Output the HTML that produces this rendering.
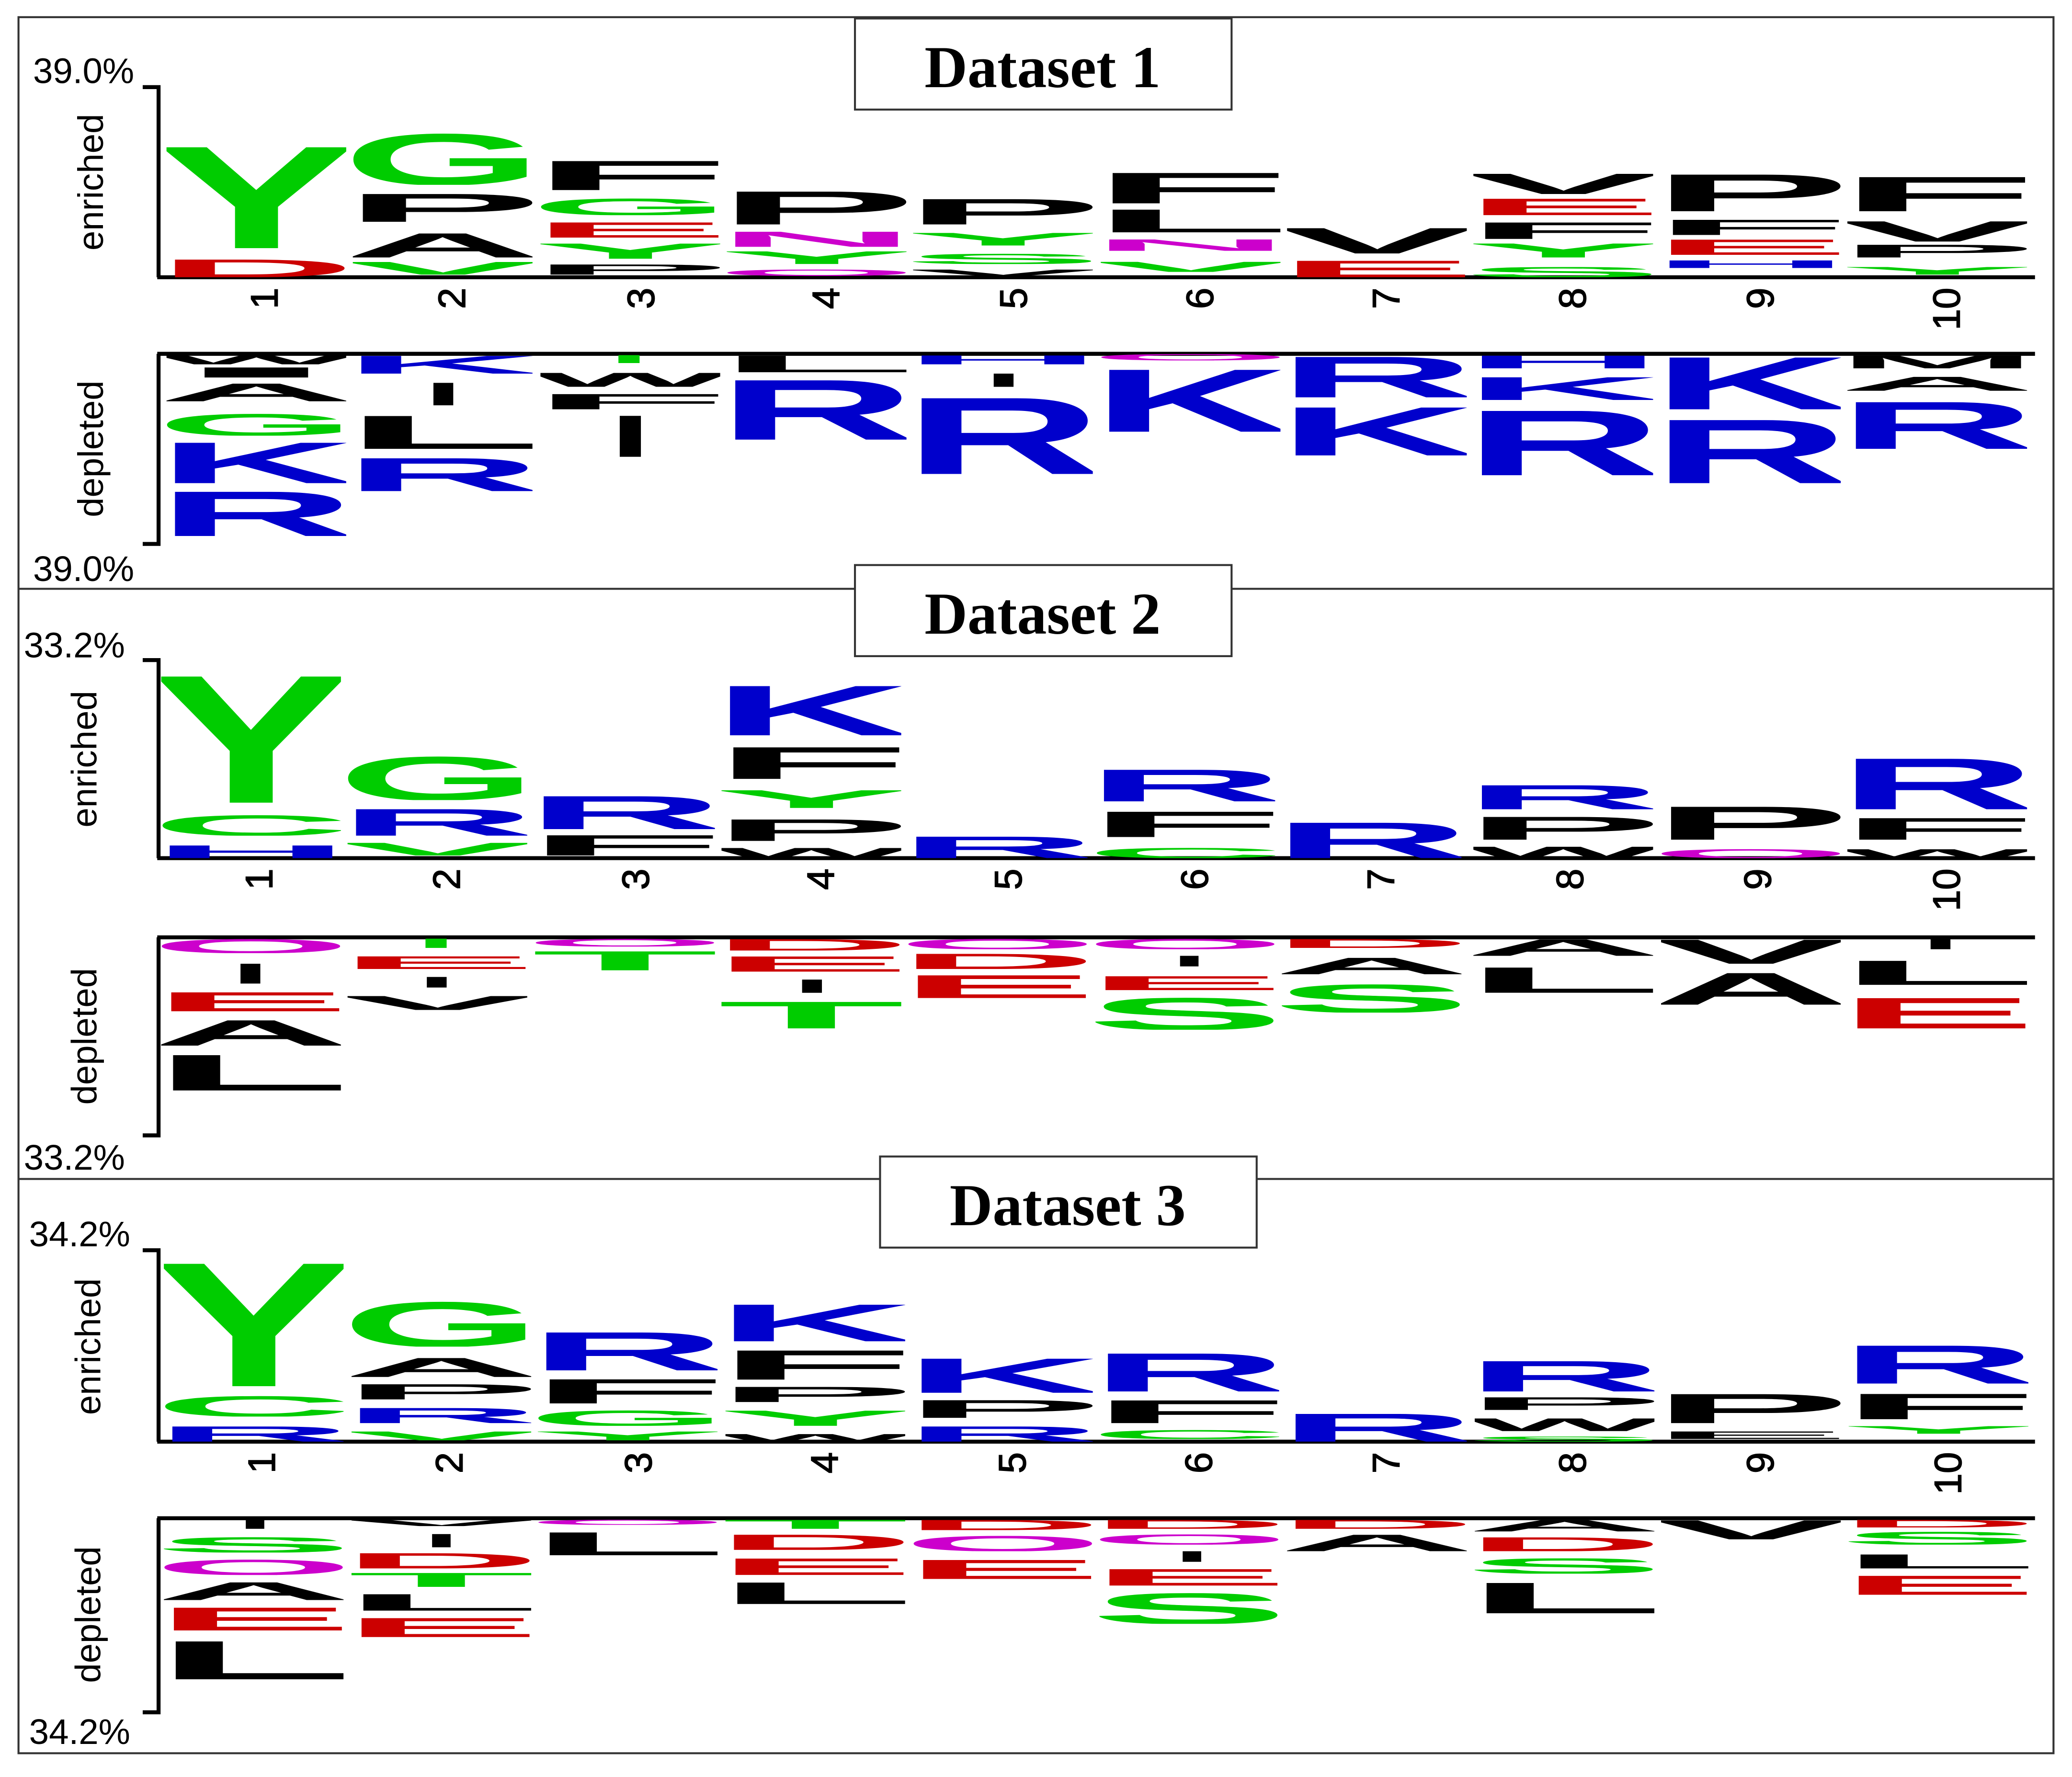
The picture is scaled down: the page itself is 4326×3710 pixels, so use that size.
<!DOCTYPE html>
<html><head><meta charset="utf-8"><style>
body{margin:0;background:#fff}
svg{display:block}
.L text{font-family:"Liberation Sans",sans-serif;font-weight:bold;font-size:100px}
.g{fill:#00cc00}.b{fill:#0000cc}.r{fill:#cc0000}.k{fill:#000}.m{fill:#cc00cc}
.ax{font-family:"Liberation Sans",sans-serif;font-size:27px;fill:#000}
.nm{font-family:"Liberation Sans",sans-serif;font-size:29px;fill:#000;stroke:#000;stroke-width:0.6}
.tt{font-family:"Liberation Serif",serif;font-weight:bold;font-size:45px;fill:#000}
</style></head><body>
<svg width="4326" height="3710" viewBox="0 0 1568 1346" preserveAspectRatio="none" xmlns="http://www.w3.org/2000/svg">
<rect x="0" y="0" width="1568" height="1346" fill="#fff"/>
<rect x="14" y="13" width="1540" height="1315" fill="none" stroke="#333" stroke-width="1.5"/>
<line x1="14" y1="446" x2="1554" y2="446" stroke="#333" stroke-width="1.5"/>
<line x1="14" y1="893" x2="1554" y2="893" stroke="#333" stroke-width="1.5"/>
<rect x="647" y="14" width="285" height="69" fill="#fff" stroke="#333" stroke-width="1.5"/>
<text class="tt" x="789" y="66" text-anchor="middle">Dataset 1</text>
<rect x="647" y="428" width="285" height="69" fill="#fff" stroke="#333" stroke-width="1.5"/>
<text class="tt" x="789" y="480" text-anchor="middle">Dataset 2</text>
<rect x="666" y="876" width="285" height="69" fill="#fff" stroke="#333" stroke-width="1.5"/>
<text class="tt" x="808" y="928" text-anchor="middle">Dataset 3</text>

<g fill="none" stroke="#000" stroke-width="3">
<path d="M108 66H120V210"/><path d="M108 412H120V268"/>
<line x1="119" y1="210" x2="1540" y2="210"/><line x1="119" y1="268" x2="1540" y2="268"/>
<path d="M108 500H120V650"/><path d="M108 860H120V710"/>
<line x1="119" y1="650" x2="1540" y2="650"/><line x1="119" y1="710" x2="1540" y2="710"/>
<path d="M108 947H120V1092"/><path d="M108 1297H120V1150"/>
<line x1="119" y1="1092" x2="1540" y2="1092"/><line x1="119" y1="1150" x2="1540" y2="1150"/>
</g>
<text class="ax" x="25" y="63">39.0%</text><text class="ax" x="25" y="440">39.0%</text>
<text class="ax" x="18" y="498">33.2%</text><text class="ax" x="18" y="886">33.2%</text>
<text class="ax" x="22" y="944">34.2%</text><text class="ax" x="22" y="1321">34.2%</text>
<text class="ax" transform="translate(78,138) rotate(-90)" text-anchor="middle">enriched</text>
<text class="ax" transform="translate(78,340) rotate(-90)" text-anchor="middle">depleted</text>
<text class="ax" transform="translate(73,575) rotate(-90)" text-anchor="middle">enriched</text>
<text class="ax" transform="translate(73,785) rotate(-90)" text-anchor="middle">depleted</text>
<text class="ax" transform="translate(76,1020) rotate(-90)" text-anchor="middle">enriched</text>
<text class="ax" transform="translate(76,1223) rotate(-90)" text-anchor="middle">depleted</text>

<g class="nm" text-anchor="middle">
<text transform="translate(210,226) rotate(-90)">1</text><text transform="translate(352,226) rotate(-90)">2</text><text transform="translate(495,226) rotate(-90)">3</text><text transform="translate(635,226) rotate(-90)">4</text><text transform="translate(777,226) rotate(-90)">5</text><text transform="translate(918,226) rotate(-90)">6</text><text transform="translate(1059,226) rotate(-90)">7</text><text transform="translate(1200,226) rotate(-90)">8</text><text transform="translate(1342,226) rotate(-90)">9</text><text transform="translate(1483,234) rotate(-90)">10</text>
<text transform="translate(206,666) rotate(-90)">1</text><text transform="translate(348,666) rotate(-90)">2</text><text transform="translate(491,666) rotate(-90)">3</text><text transform="translate(631,666) rotate(-90)">4</text><text transform="translate(773,666) rotate(-90)">5</text><text transform="translate(914,666) rotate(-90)">6</text><text transform="translate(1055,666) rotate(-90)">7</text><text transform="translate(1198,666) rotate(-90)">8</text><text transform="translate(1340,666) rotate(-90)">9</text><text transform="translate(1483,674) rotate(-90)">10</text>
<text transform="translate(208,1108) rotate(-90)">1</text><text transform="translate(350,1108) rotate(-90)">2</text><text transform="translate(493,1108) rotate(-90)">3</text><text transform="translate(634,1108) rotate(-90)">4</text><text transform="translate(776,1108) rotate(-90)">5</text><text transform="translate(917,1108) rotate(-90)">6</text><text transform="translate(1059,1108) rotate(-90)">7</text><text transform="translate(1200,1108) rotate(-90)">8</text><text transform="translate(1342,1108) rotate(-90)">9</text><text transform="translate(1484,1116) rotate(-90)">10</text>
</g>

<g class="L">
<!-- Panel 1 enriched -->
<svg x="126" y="196" width="136" height="14" viewBox="5 0 90 72" preserveAspectRatio="none"><text class="r" y="72" textLength="100" lengthAdjust="spacingAndGlyphs">D</text></svg>
<svg x="126" y="108" width="136" height="80" viewBox="5 0 90 72" preserveAspectRatio="none"><text class="g" y="72" textLength="100" lengthAdjust="spacingAndGlyphs">Y</text></svg>
<svg x="267" y="198" width="136" height="10" viewBox="5 0 90 72" preserveAspectRatio="none"><text class="g" y="72" textLength="100" lengthAdjust="spacingAndGlyphs">V</text></svg>
<svg x="267" y="176" width="136" height="19" viewBox="5 0 90 72" preserveAspectRatio="none"><text class="k" y="72" textLength="100" lengthAdjust="spacingAndGlyphs">A</text></svg>
<svg x="267" y="146" width="136" height="22" viewBox="5 0 90 72" preserveAspectRatio="none"><text class="k" y="72" textLength="100" lengthAdjust="spacingAndGlyphs">P</text></svg>
<svg x="267" y="100" width="136" height="40" viewBox="5 0 90 72" preserveAspectRatio="none"><text class="g" y="72" textLength="100" lengthAdjust="spacingAndGlyphs">G</text></svg>
<svg x="409" y="200" width="136" height="8" viewBox="5 0 90 72" preserveAspectRatio="none"><text class="k" y="72" textLength="100" lengthAdjust="spacingAndGlyphs">P</text></svg>
<svg x="409" y="184" width="136" height="12" viewBox="5 0 90 72" preserveAspectRatio="none"><text class="g" y="72" textLength="100" lengthAdjust="spacingAndGlyphs">Y</text></svg>
<svg x="409" y="168" width="136" height="12" viewBox="5 0 90 72" preserveAspectRatio="none"><text class="r" y="72" textLength="100" lengthAdjust="spacingAndGlyphs">E</text></svg>
<svg x="409" y="150" width="136" height="13" viewBox="5 0 90 72" preserveAspectRatio="none"><text class="g" y="72" textLength="100" lengthAdjust="spacingAndGlyphs">G</text></svg>
<svg x="409" y="121" width="136" height="23" viewBox="5 0 90 72" preserveAspectRatio="none"><text class="k" y="72" textLength="100" lengthAdjust="spacingAndGlyphs">F</text></svg>
<svg x="550" y="204" width="136" height="5" viewBox="5 0 90 72" preserveAspectRatio="none"><text class="m" y="72" textLength="100" lengthAdjust="spacingAndGlyphs">Q</text></svg>
<svg x="550" y="190" width="136" height="10" viewBox="5 0 90 72" preserveAspectRatio="none"><text class="g" y="72" textLength="100" lengthAdjust="spacingAndGlyphs">Y</text></svg>
<svg x="550" y="175" width="136" height="12" viewBox="5 0 90 72" preserveAspectRatio="none"><text class="m" y="72" textLength="100" lengthAdjust="spacingAndGlyphs">N</text></svg>
<svg x="550" y="144" width="136" height="26" viewBox="5 0 90 72" preserveAspectRatio="none"><text class="k" y="72" textLength="100" lengthAdjust="spacingAndGlyphs">P</text></svg>
<svg x="691" y="204" width="136" height="5" viewBox="5 0 90 72" preserveAspectRatio="none"><text class="k" y="72" textLength="100" lengthAdjust="spacingAndGlyphs">V</text></svg>
<svg x="691" y="192" width="136" height="8" viewBox="5 0 90 72" preserveAspectRatio="none"><text class="g" y="72" textLength="100" lengthAdjust="spacingAndGlyphs">S</text></svg>
<svg x="691" y="176" width="136" height="10" viewBox="5 0 90 72" preserveAspectRatio="none"><text class="g" y="72" textLength="100" lengthAdjust="spacingAndGlyphs">Y</text></svg>
<svg x="691" y="150" width="136" height="20" viewBox="5 0 90 72" preserveAspectRatio="none"><text class="k" y="72" textLength="100" lengthAdjust="spacingAndGlyphs">P</text></svg>
<svg x="833" y="198" width="136" height="8" viewBox="5 0 90 72" preserveAspectRatio="none"><text class="g" y="72" textLength="100" lengthAdjust="spacingAndGlyphs">V</text></svg>
<svg x="833" y="181" width="136" height="9" viewBox="5 0 90 72" preserveAspectRatio="none"><text class="m" y="72" textLength="100" lengthAdjust="spacingAndGlyphs">N</text></svg>
<svg x="833" y="158" width="136" height="18" viewBox="5 0 90 72" preserveAspectRatio="none"><text class="k" y="72" textLength="100" lengthAdjust="spacingAndGlyphs">L</text></svg>
<svg x="833" y="130" width="136" height="24" viewBox="5 0 90 72" preserveAspectRatio="none"><text class="k" y="72" textLength="100" lengthAdjust="spacingAndGlyphs">F</text></svg>
<svg x="974" y="197" width="136" height="13" viewBox="5 0 90 72" preserveAspectRatio="none"><text class="r" y="72" textLength="100" lengthAdjust="spacingAndGlyphs">E</text></svg>
<svg x="974" y="172" width="136" height="20" viewBox="5 0 90 72" preserveAspectRatio="none"><text class="k" y="72" textLength="100" lengthAdjust="spacingAndGlyphs">V</text></svg>
<svg x="1115" y="202" width="136" height="8" viewBox="5 0 90 72" preserveAspectRatio="none"><text class="g" y="72" textLength="100" lengthAdjust="spacingAndGlyphs">S</text></svg>
<svg x="1115" y="184" width="136" height="11" viewBox="5 0 90 72" preserveAspectRatio="none"><text class="g" y="72" textLength="100" lengthAdjust="spacingAndGlyphs">Y</text></svg>
<svg x="1115" y="168" width="136" height="13" viewBox="5 0 90 72" preserveAspectRatio="none"><text class="k" y="72" textLength="100" lengthAdjust="spacingAndGlyphs">F</text></svg>
<svg x="1115" y="150" width="136" height="13" viewBox="5 0 90 72" preserveAspectRatio="none"><text class="r" y="72" textLength="100" lengthAdjust="spacingAndGlyphs">E</text></svg>
<svg x="1115" y="131" width="136" height="16" viewBox="5 0 90 72" preserveAspectRatio="none"><text class="k" y="72" textLength="100" lengthAdjust="spacingAndGlyphs">V</text></svg>
<svg x="1257" y="197" width="136" height="6" viewBox="5 0 90 72" preserveAspectRatio="none"><text class="b" y="72" textLength="100" lengthAdjust="spacingAndGlyphs">H</text></svg>
<svg x="1257" y="181" width="136" height="12" viewBox="5 0 90 72" preserveAspectRatio="none"><text class="r" y="72" textLength="100" lengthAdjust="spacingAndGlyphs">E</text></svg>
<svg x="1257" y="166" width="136" height="12" viewBox="5 0 90 72" preserveAspectRatio="none"><text class="k" y="72" textLength="100" lengthAdjust="spacingAndGlyphs">F</text></svg>
<svg x="1257" y="131" width="136" height="29" viewBox="5 0 90 72" preserveAspectRatio="none"><text class="k" y="72" textLength="100" lengthAdjust="spacingAndGlyphs">P</text></svg>
<svg x="1398" y="202" width="136" height="6" viewBox="5 0 90 72" preserveAspectRatio="none"><text class="g" y="72" textLength="100" lengthAdjust="spacingAndGlyphs">Y</text></svg>
<svg x="1398" y="185" width="136" height="10" viewBox="5 0 90 72" preserveAspectRatio="none"><text class="k" y="72" textLength="100" lengthAdjust="spacingAndGlyphs">P</text></svg>
<svg x="1398" y="167" width="136" height="16" viewBox="5 0 90 72" preserveAspectRatio="none"><text class="k" y="72" textLength="100" lengthAdjust="spacingAndGlyphs">V</text></svg>
<svg x="1398" y="133" width="136" height="27" viewBox="5 0 90 72" preserveAspectRatio="none"><text class="k" y="72" textLength="100" lengthAdjust="spacingAndGlyphs">F</text></svg>

<!-- Panel 1 depleted -->
<svg x="126" y="269" width="136" height="7" viewBox="5 0 90 72" preserveAspectRatio="none"><text class="k" y="72" textLength="100" lengthAdjust="spacingAndGlyphs">W</text></svg>
<svg x="126" y="278" width="136" height="8" viewBox="5 0 90 72" preserveAspectRatio="none"><text class="k" y="72" textLength="100" lengthAdjust="spacingAndGlyphs">I</text></svg>
<svg x="126" y="290" width="136" height="14" viewBox="5 0 90 72" preserveAspectRatio="none"><text class="k" y="72" textLength="100" lengthAdjust="spacingAndGlyphs">A</text></svg>
<svg x="126" y="313" width="136" height="17" viewBox="5 0 90 72" preserveAspectRatio="none"><text class="g" y="72" textLength="100" lengthAdjust="spacingAndGlyphs">G</text></svg>
<svg x="126" y="334" width="136" height="32" viewBox="5 0 90 72" preserveAspectRatio="none"><text class="b" y="72" textLength="100" lengthAdjust="spacingAndGlyphs">K</text></svg>
<svg x="126" y="371" width="136" height="35" viewBox="5 0 90 72" preserveAspectRatio="none"><text class="b" y="72" textLength="100" lengthAdjust="spacingAndGlyphs">R</text></svg>
<svg x="267" y="269" width="136" height="14" viewBox="5 0 90 72" preserveAspectRatio="none"><text class="b" y="72" textLength="100" lengthAdjust="spacingAndGlyphs">K</text></svg>
<rect x="328" y="290" width="15" height="17" fill="#000"/>
<svg x="267" y="314" width="136" height="26" viewBox="5 0 90 72" preserveAspectRatio="none"><text class="k" y="72" textLength="100" lengthAdjust="spacingAndGlyphs">L</text></svg>
<svg x="267" y="346" width="136" height="26" viewBox="5 0 90 72" preserveAspectRatio="none"><text class="b" y="72" textLength="100" lengthAdjust="spacingAndGlyphs">R</text></svg>
<rect x="468" y="269" width="16" height="6" fill="#00cc00"/>
<svg x="409" y="282" width="136" height="11" viewBox="5 0 90 72" preserveAspectRatio="none"><text class="k" y="72" textLength="100" lengthAdjust="spacingAndGlyphs">W</text></svg>
<svg x="409" y="298" width="136" height="12" viewBox="5 0 90 72" preserveAspectRatio="none"><text class="k" y="72" textLength="100" lengthAdjust="spacingAndGlyphs">F</text></svg>
<rect x="469" y="315" width="16" height="31" fill="#000"/>
<svg x="550" y="269" width="136" height="13" viewBox="5 0 90 72" preserveAspectRatio="none"><text class="k" y="72" textLength="100" lengthAdjust="spacingAndGlyphs">L</text></svg>
<svg x="550" y="286" width="136" height="47" viewBox="5 0 90 72" preserveAspectRatio="none"><text class="b" y="72" textLength="100" lengthAdjust="spacingAndGlyphs">R</text></svg>
<svg x="691" y="269" width="136" height="7" viewBox="5 0 90 72" preserveAspectRatio="none"><text class="b" y="72" textLength="100" lengthAdjust="spacingAndGlyphs">H</text></svg>
<rect x="752" y="283" width="15" height="10" fill="#000"/>
<svg x="691" y="299" width="136" height="60" viewBox="5 0 90 72" preserveAspectRatio="none"><text class="b" y="72" textLength="100" lengthAdjust="spacingAndGlyphs">R</text></svg>
<svg x="833" y="268" width="136" height="5" viewBox="5 0 90 72" preserveAspectRatio="none"><text class="m" y="72" textLength="100" lengthAdjust="spacingAndGlyphs">Q</text></svg>
<svg x="833" y="278" width="136" height="49" viewBox="5 0 90 72" preserveAspectRatio="none"><text class="b" y="72" textLength="100" lengthAdjust="spacingAndGlyphs">K</text></svg>
<svg x="974" y="269" width="136" height="32" viewBox="5 0 90 72" preserveAspectRatio="none"><text class="b" y="72" textLength="100" lengthAdjust="spacingAndGlyphs">R</text></svg>
<svg x="974" y="307" width="136" height="38" viewBox="5 0 90 72" preserveAspectRatio="none"><text class="b" y="72" textLength="100" lengthAdjust="spacingAndGlyphs">K</text></svg>
<svg x="1115" y="269" width="136" height="10" viewBox="5 0 90 72" preserveAspectRatio="none"><text class="b" y="72" textLength="100" lengthAdjust="spacingAndGlyphs">H</text></svg>
<svg x="1115" y="285" width="136" height="18" viewBox="5 0 90 72" preserveAspectRatio="none"><text class="b" y="72" textLength="100" lengthAdjust="spacingAndGlyphs">K</text></svg>
<svg x="1115" y="309" width="136" height="51" viewBox="5 0 90 72" preserveAspectRatio="none"><text class="b" y="72" textLength="100" lengthAdjust="spacingAndGlyphs">R</text></svg>
<svg x="1257" y="269" width="136" height="41" viewBox="5 0 90 72" preserveAspectRatio="none"><text class="b" y="72" textLength="100" lengthAdjust="spacingAndGlyphs">K</text></svg>
<svg x="1257" y="316" width="136" height="50" viewBox="5 0 90 72" preserveAspectRatio="none"><text class="b" y="72" textLength="100" lengthAdjust="spacingAndGlyphs">R</text></svg>
<svg x="1398" y="269" width="136" height="10" viewBox="5 0 90 72" preserveAspectRatio="none"><text class="k" y="72" textLength="100" lengthAdjust="spacingAndGlyphs">M</text></svg>
<svg x="1398" y="285" width="136" height="11" viewBox="5 0 90 72" preserveAspectRatio="none"><text class="k" y="72" textLength="100" lengthAdjust="spacingAndGlyphs">A</text></svg>
<svg x="1398" y="303" width="136" height="37" viewBox="5 0 90 72" preserveAspectRatio="none"><text class="b" y="72" textLength="100" lengthAdjust="spacingAndGlyphs">R</text></svg>

<!-- Panel 2 enriched -->
<svg x="122" y="640" width="136" height="10" viewBox="5 0 90 72" preserveAspectRatio="none"><text class="b" y="72" textLength="100" lengthAdjust="spacingAndGlyphs">H</text></svg>
<svg x="122" y="617" width="136" height="16" viewBox="5 0 90 72" preserveAspectRatio="none"><text class="g" y="72" textLength="100" lengthAdjust="spacingAndGlyphs">C</text></svg>
<svg x="122" y="508" width="136" height="100" viewBox="5 0 90 72" preserveAspectRatio="none"><text class="g" y="72" textLength="100" lengthAdjust="spacingAndGlyphs">Y</text></svg>
<svg x="263" y="638" width="136" height="10" viewBox="5 0 90 72" preserveAspectRatio="none"><text class="g" y="72" textLength="100" lengthAdjust="spacingAndGlyphs">V</text></svg>
<svg x="263" y="612" width="136" height="21" viewBox="5 0 90 72" preserveAspectRatio="none"><text class="b" y="72" textLength="100" lengthAdjust="spacingAndGlyphs">R</text></svg>
<svg x="263" y="572" width="136" height="34" viewBox="5 0 90 72" preserveAspectRatio="none"><text class="g" y="72" textLength="100" lengthAdjust="spacingAndGlyphs">G</text></svg>
<svg x="405" y="632" width="136" height="16" viewBox="5 0 90 72" preserveAspectRatio="none"><text class="k" y="72" textLength="100" lengthAdjust="spacingAndGlyphs">F</text></svg>
<svg x="405" y="602" width="136" height="26" viewBox="5 0 90 72" preserveAspectRatio="none"><text class="b" y="72" textLength="100" lengthAdjust="spacingAndGlyphs">R</text></svg>
<svg x="546" y="642" width="136" height="8" viewBox="5 0 90 72" preserveAspectRatio="none"><text class="k" y="72" textLength="100" lengthAdjust="spacingAndGlyphs">W</text></svg>
<svg x="546" y="620" width="136" height="17" viewBox="5 0 90 72" preserveAspectRatio="none"><text class="k" y="72" textLength="100" lengthAdjust="spacingAndGlyphs">P</text></svg>
<svg x="546" y="598" width="136" height="14" viewBox="5 0 90 72" preserveAspectRatio="none"><text class="g" y="72" textLength="100" lengthAdjust="spacingAndGlyphs">Y</text></svg>
<svg x="546" y="565" width="136" height="25" viewBox="5 0 90 72" preserveAspectRatio="none"><text class="k" y="72" textLength="100" lengthAdjust="spacingAndGlyphs">F</text></svg>
<svg x="546" y="518" width="136" height="39" viewBox="5 0 90 72" preserveAspectRatio="none"><text class="b" y="72" textLength="100" lengthAdjust="spacingAndGlyphs">K</text></svg>
<svg x="687" y="633" width="136" height="17" viewBox="5 0 90 72" preserveAspectRatio="none"><text class="b" y="72" textLength="100" lengthAdjust="spacingAndGlyphs">R</text></svg>
<svg x="829" y="642" width="136" height="8" viewBox="5 0 90 72" preserveAspectRatio="none"><text class="g" y="72" textLength="100" lengthAdjust="spacingAndGlyphs">C</text></svg>
<svg x="829" y="614" width="136" height="20" viewBox="5 0 90 72" preserveAspectRatio="none"><text class="k" y="72" textLength="100" lengthAdjust="spacingAndGlyphs">F</text></svg>
<svg x="829" y="582" width="136" height="25" viewBox="5 0 90 72" preserveAspectRatio="none"><text class="b" y="72" textLength="100" lengthAdjust="spacingAndGlyphs">R</text></svg>
<svg x="970" y="622" width="136" height="28" viewBox="5 0 90 72" preserveAspectRatio="none"><text class="b" y="72" textLength="100" lengthAdjust="spacingAndGlyphs">R</text></svg>
<svg x="1115" y="641" width="136" height="9" viewBox="5 0 90 72" preserveAspectRatio="none"><text class="k" y="72" textLength="100" lengthAdjust="spacingAndGlyphs">W</text></svg>
<svg x="1115" y="618" width="136" height="18" viewBox="5 0 90 72" preserveAspectRatio="none"><text class="k" y="72" textLength="100" lengthAdjust="spacingAndGlyphs">P</text></svg>
<svg x="1115" y="594" width="136" height="19" viewBox="5 0 90 72" preserveAspectRatio="none"><text class="b" y="72" textLength="100" lengthAdjust="spacingAndGlyphs">R</text></svg>
<svg x="1257" y="643" width="136" height="7" viewBox="5 0 90 72" preserveAspectRatio="none"><text class="m" y="72" textLength="100" lengthAdjust="spacingAndGlyphs">Q</text></svg>
<svg x="1257" y="610" width="136" height="26" viewBox="5 0 90 72" preserveAspectRatio="none"><text class="k" y="72" textLength="100" lengthAdjust="spacingAndGlyphs">P</text></svg>
<svg x="1398" y="643" width="136" height="7" viewBox="5 0 90 72" preserveAspectRatio="none"><text class="k" y="72" textLength="100" lengthAdjust="spacingAndGlyphs">W</text></svg>
<svg x="1398" y="619" width="136" height="17" viewBox="5 0 90 72" preserveAspectRatio="none"><text class="k" y="72" textLength="100" lengthAdjust="spacingAndGlyphs">F</text></svg>
<svg x="1398" y="573" width="136" height="40" viewBox="5 0 90 72" preserveAspectRatio="none"><text class="b" y="72" textLength="100" lengthAdjust="spacingAndGlyphs">R</text></svg>

<!-- Panel 2 depleted -->
<svg x="122" y="711" width="136" height="11" viewBox="5 0 90 72" preserveAspectRatio="none"><text class="m" y="72" textLength="100" lengthAdjust="spacingAndGlyphs">Q</text></svg>
<rect x="182" y="730" width="15" height="15" fill="#000"/>
<svg x="122" y="751" width="136" height="15" viewBox="5 0 90 72" preserveAspectRatio="none"><text class="r" y="72" textLength="100" lengthAdjust="spacingAndGlyphs">E</text></svg>
<svg x="122" y="772" width="136" height="20" viewBox="5 0 90 72" preserveAspectRatio="none"><text class="k" y="72" textLength="100" lengthAdjust="spacingAndGlyphs">A</text></svg>
<svg x="122" y="798" width="136" height="28" viewBox="5 0 90 72" preserveAspectRatio="none"><text class="k" y="72" textLength="100" lengthAdjust="spacingAndGlyphs">L</text></svg>
<rect x="322" y="711" width="16" height="7" fill="#00cc00"/>
<svg x="263" y="724" width="136" height="10" viewBox="5 0 90 72" preserveAspectRatio="none"><text class="r" y="72" textLength="100" lengthAdjust="spacingAndGlyphs">E</text></svg>
<rect x="323" y="740" width="15" height="8" fill="#000"/>
<svg x="263" y="754" width="136" height="11" viewBox="5 0 90 72" preserveAspectRatio="none"><text class="k" y="72" textLength="100" lengthAdjust="spacingAndGlyphs">V</text></svg>
<svg x="405" y="711" width="136" height="6" viewBox="5 0 90 72" preserveAspectRatio="none"><text class="m" y="72" textLength="100" lengthAdjust="spacingAndGlyphs">Q</text></svg>
<svg x="405" y="720" width="136" height="15" viewBox="5 0 90 72" preserveAspectRatio="none"><text class="g" y="72" textLength="100" lengthAdjust="spacingAndGlyphs">T</text></svg>
<svg x="546" y="711" width="136" height="9" viewBox="5 0 90 72" preserveAspectRatio="none"><text class="r" y="72" textLength="100" lengthAdjust="spacingAndGlyphs">D</text></svg>
<svg x="546" y="724" width="136" height="12" viewBox="5 0 90 72" preserveAspectRatio="none"><text class="r" y="72" textLength="100" lengthAdjust="spacingAndGlyphs">E</text></svg>
<rect x="607" y="742" width="15" height="10" fill="#000"/>
<svg x="546" y="758" width="136" height="21" viewBox="5 0 90 72" preserveAspectRatio="none"><text class="g" y="72" textLength="100" lengthAdjust="spacingAndGlyphs">T</text></svg>
<svg x="687" y="711" width="136" height="8" viewBox="5 0 90 72" preserveAspectRatio="none"><text class="m" y="72" textLength="100" lengthAdjust="spacingAndGlyphs">Q</text></svg>
<svg x="687" y="722" width="136" height="12" viewBox="5 0 90 72" preserveAspectRatio="none"><text class="r" y="72" textLength="100" lengthAdjust="spacingAndGlyphs">D</text></svg>
<svg x="687" y="738" width="136" height="18" viewBox="5 0 90 72" preserveAspectRatio="none"><text class="r" y="72" textLength="100" lengthAdjust="spacingAndGlyphs">E</text></svg>
<svg x="829" y="711" width="136" height="8" viewBox="5 0 90 72" preserveAspectRatio="none"><text class="m" y="72" textLength="100" lengthAdjust="spacingAndGlyphs">Q</text></svg>
<rect x="893" y="724" width="14" height="8" fill="#000"/>
<svg x="829" y="739" width="136" height="11" viewBox="5 0 90 72" preserveAspectRatio="none"><text class="r" y="72" textLength="100" lengthAdjust="spacingAndGlyphs">E</text></svg>
<svg x="829" y="755" width="136" height="25" viewBox="5 0 90 72" preserveAspectRatio="none"><text class="g" y="72" textLength="100" lengthAdjust="spacingAndGlyphs">S</text></svg>
<svg x="970" y="711" width="136" height="7" viewBox="5 0 90 72" preserveAspectRatio="none"><text class="r" y="72" textLength="100" lengthAdjust="spacingAndGlyphs">D</text></svg>
<svg x="970" y="725" width="136" height="13" viewBox="5 0 90 72" preserveAspectRatio="none"><text class="k" y="72" textLength="100" lengthAdjust="spacingAndGlyphs">A</text></svg>
<svg x="970" y="745" width="136" height="22" viewBox="5 0 90 72" preserveAspectRatio="none"><text class="g" y="72" textLength="100" lengthAdjust="spacingAndGlyphs">S</text></svg>
<svg x="1115" y="711" width="136" height="13" viewBox="5 0 90 72" preserveAspectRatio="none"><text class="k" y="72" textLength="100" lengthAdjust="spacingAndGlyphs">A</text></svg>
<svg x="1115" y="732" width="136" height="20" viewBox="5 0 90 72" preserveAspectRatio="none"><text class="k" y="72" textLength="100" lengthAdjust="spacingAndGlyphs">L</text></svg>
<svg x="1257" y="711" width="136" height="19" viewBox="5 0 90 72" preserveAspectRatio="none"><text class="k" y="72" textLength="100" lengthAdjust="spacingAndGlyphs">V</text></svg>
<svg x="1257" y="736" width="136" height="25" viewBox="5 0 90 72" preserveAspectRatio="none"><text class="k" y="72" textLength="100" lengthAdjust="spacingAndGlyphs">A</text></svg>
<rect x="1461" y="711" width="15" height="8" fill="#000"/>
<svg x="1398" y="727" width="136" height="19" viewBox="5 0 90 72" preserveAspectRatio="none"><text class="k" y="72" textLength="100" lengthAdjust="spacingAndGlyphs">L</text></svg>
<svg x="1398" y="755" width="136" height="24" viewBox="5 0 90 72" preserveAspectRatio="none"><text class="r" y="72" textLength="100" lengthAdjust="spacingAndGlyphs">E</text></svg>

<!-- Panel 3 enriched -->
<svg x="124" y="1080" width="136" height="12" viewBox="5 0 90 72" preserveAspectRatio="none"><text class="b" y="72" textLength="100" lengthAdjust="spacingAndGlyphs">R</text></svg>
<svg x="124" y="1057" width="136" height="16" viewBox="5 0 90 72" preserveAspectRatio="none"><text class="g" y="72" textLength="100" lengthAdjust="spacingAndGlyphs">C</text></svg>
<svg x="124" y="953" width="136" height="97" viewBox="5 0 90 72" preserveAspectRatio="none"><text class="g" y="72" textLength="100" lengthAdjust="spacingAndGlyphs">Y</text></svg>
<svg x="266" y="1084" width="136" height="7" viewBox="5 0 90 72" preserveAspectRatio="none"><text class="g" y="72" textLength="100" lengthAdjust="spacingAndGlyphs">V</text></svg>
<svg x="266" y="1066" width="136" height="12" viewBox="5 0 90 72" preserveAspectRatio="none"><text class="b" y="72" textLength="100" lengthAdjust="spacingAndGlyphs">R</text></svg>
<svg x="266" y="1048" width="136" height="12" viewBox="5 0 90 72" preserveAspectRatio="none"><text class="k" y="72" textLength="100" lengthAdjust="spacingAndGlyphs">P</text></svg>
<svg x="266" y="1028" width="136" height="15" viewBox="5 0 90 72" preserveAspectRatio="none"><text class="k" y="72" textLength="100" lengthAdjust="spacingAndGlyphs">A</text></svg>
<svg x="266" y="985" width="136" height="35" viewBox="5 0 90 72" preserveAspectRatio="none"><text class="g" y="72" textLength="100" lengthAdjust="spacingAndGlyphs">G</text></svg>
<svg x="407" y="1084" width="136" height="7" viewBox="5 0 90 72" preserveAspectRatio="none"><text class="g" y="72" textLength="100" lengthAdjust="spacingAndGlyphs">Y</text></svg>
<svg x="407" y="1068" width="136" height="12" viewBox="5 0 90 72" preserveAspectRatio="none"><text class="g" y="72" textLength="100" lengthAdjust="spacingAndGlyphs">G</text></svg>
<svg x="407" y="1044" width="136" height="19" viewBox="5 0 90 72" preserveAspectRatio="none"><text class="k" y="72" textLength="100" lengthAdjust="spacingAndGlyphs">F</text></svg>
<svg x="407" y="1008" width="136" height="30" viewBox="5 0 90 72" preserveAspectRatio="none"><text class="b" y="72" textLength="100" lengthAdjust="spacingAndGlyphs">R</text></svg>
<svg x="549" y="1086" width="136" height="6" viewBox="5 0 90 72" preserveAspectRatio="none"><text class="k" y="72" textLength="100" lengthAdjust="spacingAndGlyphs">W</text></svg>
<svg x="549" y="1068" width="136" height="12" viewBox="5 0 90 72" preserveAspectRatio="none"><text class="g" y="72" textLength="100" lengthAdjust="spacingAndGlyphs">Y</text></svg>
<svg x="549" y="1050" width="136" height="12" viewBox="5 0 90 72" preserveAspectRatio="none"><text class="k" y="72" textLength="100" lengthAdjust="spacingAndGlyphs">P</text></svg>
<svg x="549" y="1022" width="136" height="23" viewBox="5 0 90 72" preserveAspectRatio="none"><text class="k" y="72" textLength="100" lengthAdjust="spacingAndGlyphs">F</text></svg>
<svg x="549" y="987" width="136" height="29" viewBox="5 0 90 72" preserveAspectRatio="none"><text class="b" y="72" textLength="100" lengthAdjust="spacingAndGlyphs">K</text></svg>
<svg x="691" y="1080" width="136" height="12" viewBox="5 0 90 72" preserveAspectRatio="none"><text class="b" y="72" textLength="100" lengthAdjust="spacingAndGlyphs">R</text></svg>
<svg x="691" y="1060" width="136" height="14" viewBox="5 0 90 72" preserveAspectRatio="none"><text class="k" y="72" textLength="100" lengthAdjust="spacingAndGlyphs">P</text></svg>
<svg x="691" y="1028" width="136" height="27" viewBox="5 0 90 72" preserveAspectRatio="none"><text class="b" y="72" textLength="100" lengthAdjust="spacingAndGlyphs">K</text></svg>
<svg x="832" y="1083" width="136" height="7" viewBox="5 0 90 72" preserveAspectRatio="none"><text class="g" y="72" textLength="100" lengthAdjust="spacingAndGlyphs">C</text></svg>
<svg x="832" y="1060" width="136" height="18" viewBox="5 0 90 72" preserveAspectRatio="none"><text class="k" y="72" textLength="100" lengthAdjust="spacingAndGlyphs">F</text></svg>
<svg x="832" y="1024" width="136" height="30" viewBox="5 0 90 72" preserveAspectRatio="none"><text class="b" y="72" textLength="100" lengthAdjust="spacingAndGlyphs">R</text></svg>
<svg x="974" y="1070" width="136" height="22" viewBox="5 0 90 72" preserveAspectRatio="none"><text class="b" y="72" textLength="100" lengthAdjust="spacingAndGlyphs">R</text></svg>
<svg x="1116" y="1088" width="136" height="4" viewBox="5 0 90 72" preserveAspectRatio="none"><text class="g" y="72" textLength="100" lengthAdjust="spacingAndGlyphs">S</text></svg>
<svg x="1116" y="1074" width="136" height="10" viewBox="5 0 90 72" preserveAspectRatio="none"><text class="k" y="72" textLength="100" lengthAdjust="spacingAndGlyphs">W</text></svg>
<svg x="1116" y="1058" width="136" height="10" viewBox="5 0 90 72" preserveAspectRatio="none"><text class="k" y="72" textLength="100" lengthAdjust="spacingAndGlyphs">P</text></svg>
<svg x="1116" y="1030" width="136" height="24" viewBox="5 0 90 72" preserveAspectRatio="none"><text class="b" y="72" textLength="100" lengthAdjust="spacingAndGlyphs">R</text></svg>
<svg x="1257" y="1084" width="136" height="6" viewBox="5 0 90 72" preserveAspectRatio="none"><text class="k" y="72" textLength="100" lengthAdjust="spacingAndGlyphs">E</text></svg>
<svg x="1257" y="1055" width="136" height="23" viewBox="5 0 90 72" preserveAspectRatio="none"><text class="k" y="72" textLength="100" lengthAdjust="spacingAndGlyphs">P</text></svg>
<svg x="1399" y="1080" width="136" height="6" viewBox="5 0 90 72" preserveAspectRatio="none"><text class="g" y="72" textLength="100" lengthAdjust="spacingAndGlyphs">Y</text></svg>
<svg x="1399" y="1055" width="136" height="20" viewBox="5 0 90 72" preserveAspectRatio="none"><text class="k" y="72" textLength="100" lengthAdjust="spacingAndGlyphs">F</text></svg>
<svg x="1399" y="1018" width="136" height="30" viewBox="5 0 90 72" preserveAspectRatio="none"><text class="b" y="72" textLength="100" lengthAdjust="spacingAndGlyphs">R</text></svg>

<!-- Panel 3 depleted -->
<rect x="186" y="1151" width="14" height="7" fill="#000"/>
<svg x="124" y="1164" width="136" height="12" viewBox="5 0 90 72" preserveAspectRatio="none"><text class="g" y="72" textLength="100" lengthAdjust="spacingAndGlyphs">S</text></svg>
<svg x="124" y="1181" width="136" height="12" viewBox="5 0 90 72" preserveAspectRatio="none"><text class="m" y="72" textLength="100" lengthAdjust="spacingAndGlyphs">Q</text></svg>
<svg x="124" y="1198" width="136" height="14" viewBox="5 0 90 72" preserveAspectRatio="none"><text class="k" y="72" textLength="100" lengthAdjust="spacingAndGlyphs">A</text></svg>
<svg x="124" y="1217" width="136" height="18" viewBox="5 0 90 72" preserveAspectRatio="none"><text class="r" y="72" textLength="100" lengthAdjust="spacingAndGlyphs">E</text></svg>
<svg x="124" y="1242" width="136" height="30" viewBox="5 0 90 72" preserveAspectRatio="none"><text class="k" y="72" textLength="100" lengthAdjust="spacingAndGlyphs">L</text></svg>
<svg x="266" y="1151" width="136" height="5" viewBox="5 0 90 72" preserveAspectRatio="none"><text class="k" y="72" textLength="100" lengthAdjust="spacingAndGlyphs">V</text></svg>
<rect x="327" y="1162" width="14" height="10" fill="#000"/>
<svg x="266" y="1176" width="136" height="12" viewBox="5 0 90 72" preserveAspectRatio="none"><text class="r" y="72" textLength="100" lengthAdjust="spacingAndGlyphs">D</text></svg>
<svg x="266" y="1191" width="136" height="11" viewBox="5 0 90 72" preserveAspectRatio="none"><text class="g" y="72" textLength="100" lengthAdjust="spacingAndGlyphs">T</text></svg>
<svg x="266" y="1207" width="136" height="13" viewBox="5 0 90 72" preserveAspectRatio="none"><text class="k" y="72" textLength="100" lengthAdjust="spacingAndGlyphs">L</text></svg>
<svg x="266" y="1225" width="136" height="15" viewBox="5 0 90 72" preserveAspectRatio="none"><text class="r" y="72" textLength="100" lengthAdjust="spacingAndGlyphs">E</text></svg>
<svg x="407" y="1151" width="136" height="4" viewBox="5 0 90 72" preserveAspectRatio="none"><text class="m" y="72" textLength="100" lengthAdjust="spacingAndGlyphs">Q</text></svg>
<svg x="407" y="1160" width="136" height="18" viewBox="5 0 90 72" preserveAspectRatio="none"><text class="k" y="72" textLength="100" lengthAdjust="spacingAndGlyphs">L</text></svg>
<svg x="549" y="1151" width="136" height="7" viewBox="5 0 90 72" preserveAspectRatio="none"><text class="g" y="72" textLength="100" lengthAdjust="spacingAndGlyphs">T</text></svg>
<svg x="549" y="1162" width="136" height="12" viewBox="5 0 90 72" preserveAspectRatio="none"><text class="r" y="72" textLength="100" lengthAdjust="spacingAndGlyphs">D</text></svg>
<svg x="549" y="1180" width="136" height="13" viewBox="5 0 90 72" preserveAspectRatio="none"><text class="r" y="72" textLength="100" lengthAdjust="spacingAndGlyphs">E</text></svg>
<svg x="549" y="1198" width="136" height="17" viewBox="5 0 90 72" preserveAspectRatio="none"><text class="k" y="72" textLength="100" lengthAdjust="spacingAndGlyphs">L</text></svg>
<svg x="691" y="1151" width="136" height="8" viewBox="5 0 90 72" preserveAspectRatio="none"><text class="r" y="72" textLength="100" lengthAdjust="spacingAndGlyphs">D</text></svg>
<svg x="691" y="1163" width="136" height="12" viewBox="5 0 90 72" preserveAspectRatio="none"><text class="m" y="72" textLength="100" lengthAdjust="spacingAndGlyphs">Q</text></svg>
<svg x="691" y="1181" width="136" height="15" viewBox="5 0 90 72" preserveAspectRatio="none"><text class="r" y="72" textLength="100" lengthAdjust="spacingAndGlyphs">E</text></svg>
<svg x="832" y="1151" width="136" height="7" viewBox="5 0 90 72" preserveAspectRatio="none"><text class="r" y="72" textLength="100" lengthAdjust="spacingAndGlyphs">D</text></svg>
<svg x="832" y="1162" width="136" height="8" viewBox="5 0 90 72" preserveAspectRatio="none"><text class="m" y="72" textLength="100" lengthAdjust="spacingAndGlyphs">Q</text></svg>
<rect x="895" y="1175" width="14" height="8" fill="#000"/>
<svg x="832" y="1188" width="136" height="13" viewBox="5 0 90 72" preserveAspectRatio="none"><text class="r" y="72" textLength="100" lengthAdjust="spacingAndGlyphs">E</text></svg>
<svg x="832" y="1206" width="136" height="24" viewBox="5 0 90 72" preserveAspectRatio="none"><text class="g" y="72" textLength="100" lengthAdjust="spacingAndGlyphs">S</text></svg>
<svg x="974" y="1151" width="136" height="7" viewBox="5 0 90 72" preserveAspectRatio="none"><text class="r" y="72" textLength="100" lengthAdjust="spacingAndGlyphs">D</text></svg>
<svg x="974" y="1162" width="136" height="13" viewBox="5 0 90 72" preserveAspectRatio="none"><text class="k" y="72" textLength="100" lengthAdjust="spacingAndGlyphs">A</text></svg>
<svg x="1116" y="1151" width="136" height="9" viewBox="5 0 90 72" preserveAspectRatio="none"><text class="k" y="72" textLength="100" lengthAdjust="spacingAndGlyphs">A</text></svg>
<svg x="1116" y="1164" width="136" height="11" viewBox="5 0 90 72" preserveAspectRatio="none"><text class="r" y="72" textLength="100" lengthAdjust="spacingAndGlyphs">D</text></svg>
<svg x="1116" y="1180" width="136" height="12" viewBox="5 0 90 72" preserveAspectRatio="none"><text class="g" y="72" textLength="100" lengthAdjust="spacingAndGlyphs">S</text></svg>
<svg x="1116" y="1198" width="136" height="24" viewBox="5 0 90 72" preserveAspectRatio="none"><text class="k" y="72" textLength="100" lengthAdjust="spacingAndGlyphs">L</text></svg>
<svg x="1257" y="1151" width="136" height="15" viewBox="5 0 90 72" preserveAspectRatio="none"><text class="k" y="72" textLength="100" lengthAdjust="spacingAndGlyphs">V</text></svg>
<svg x="1399" y="1151" width="136" height="6" viewBox="5 0 90 72" preserveAspectRatio="none"><text class="r" y="72" textLength="100" lengthAdjust="spacingAndGlyphs">D</text></svg>
<svg x="1399" y="1160" width="136" height="10" viewBox="5 0 90 72" preserveAspectRatio="none"><text class="g" y="72" textLength="100" lengthAdjust="spacingAndGlyphs">S</text></svg>
<svg x="1399" y="1177" width="136" height="11" viewBox="5 0 90 72" preserveAspectRatio="none"><text class="k" y="72" textLength="100" lengthAdjust="spacingAndGlyphs">L</text></svg>
<svg x="1399" y="1193" width="136" height="15" viewBox="5 0 90 72" preserveAspectRatio="none"><text class="r" y="72" textLength="100" lengthAdjust="spacingAndGlyphs">E</text></svg>
</g>
</svg>
</body></html>
